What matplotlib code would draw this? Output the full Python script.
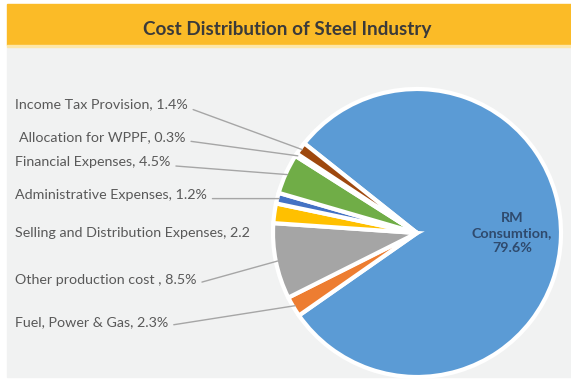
import numpy as np
import matplotlib.pyplot as plt
from matplotlib.patches import Rectangle

plt.rcParams['font.family'] = ['Lato', 'DejaVu Sans']

labels = ['RM\nConsumtion,\n79.6%', 'Fuel, Power & Gas, 2.3%', 'Other production cost , 8.5%',
          'Selling and Distribution Expenses, 2.2', 'Administrative Expenses, 1.2%',
          'Financial Expenses, 4.5%', 'Allocation for WPPF, 0.3%', 'Income Tax Provision, 1.4%']
values = [79.6, 2.3, 8.5, 2.2, 1.2, 4.5, 0.3, 1.4]
colors = ['#5b9bd5', '#ed7d31', '#a5a5a5', '#ffc000', '#4472c4', '#70ad47', '#255e91', '#9e480e']

# label anchor points (pixels from top-left)
label_pos = [None, (15, 322), (15, 280), (15, 233), (15, 195), (15, 162), (19, 137), (15, 104)]

W, H = 571, 382
fig = plt.figure(figsize=(W / 100, H / 100), dpi=100)
ax = fig.add_axes([0, 0, 1, 1])

# background panel and header band
ax.add_patch(Rectangle((7, H - 377), W - 7, 330, color='#f1f2f2', zorder=0))
ax.add_patch(Rectangle((7, H - 45), W - 7, 41, color='#fbbb27', zorder=1))
ax.add_patch(Rectangle((7, H - 47), W - 7, 2, color='#fde7a8', zorder=1))
ax.text(287, H - 29, 'Cost Distribution of Steel Industry', ha='center', va='center',
        fontsize=13.6, fontweight='bold', color='#3a3a3a', zorder=2)

cx, cy, r = 417, H - 233, 144
wedges, _ = ax.pie(values, colors=colors, startangle=141.5, counterclock=False,
                   center=(cx, cy), radius=r, frame=True,
                   wedgeprops=dict(edgecolor='white', linewidth=3))
ax.set_xlim(0, W)
ax.set_ylim(0, H)
ax.set_aspect('equal')
ax.axis('off')

ax.text(512, H - 233, labels[0], ha='center', va='center', fontsize=10.3,
        fontweight='bold', color='#2f4a6d', linespacing=1.35)

for i in range(1, len(values)):
    w = wedges[i]
    mid = np.deg2rad((w.theta1 + w.theta2) / 2)
    px = cx + (r - 2) * np.cos(mid)
    py = cy + (r - 2) * np.sin(mid)
    lx, ly = label_pos[i]
    if i == 3:
        ax.text(lx, H - ly, labels[i], ha='left', va='center', fontsize=10.3, color='#595959')
        continue
    ax.annotate(labels[i], xy=(px, py), xytext=(lx, H - ly), textcoords='data',
                ha='left', va='center', fontsize=10.3, color='#595959',
                arrowprops=dict(arrowstyle='-', color='#a6a6a6', lw=1,
                                relpos=(1, 0.2), shrinkA=2, shrinkB=0))

fig.savefig('out.png', dpi=100, facecolor='white')
